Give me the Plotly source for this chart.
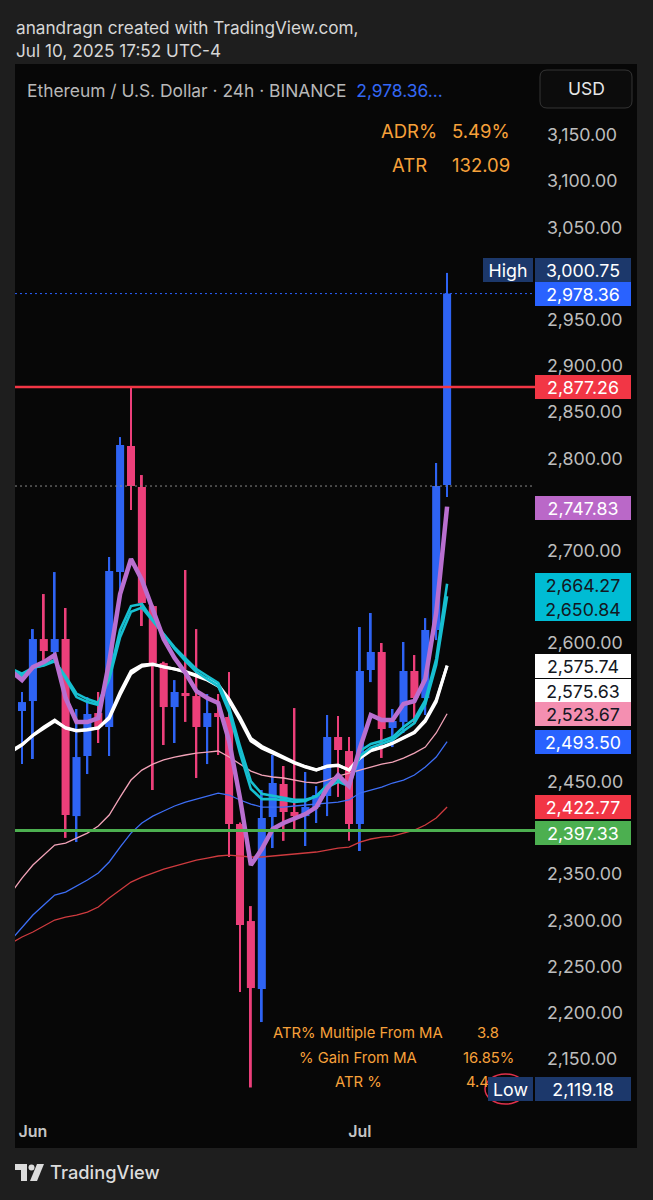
import plotly.graph_objects as go

# ---------------- data ----------------
candle_dates = (["2025-05-31"] + [f"2025-06-{d:02d}" for d in range(1, 31)]
                + [f"2025-07-{d:02d}" for d in range(1, 10)])
ma_dates = ["2025-05-30"] + candle_dates

open_ = [2526.6, 2537.4, 2604.5, 2590.5, 2604.5, 2412.9, 2477.9, 2524.4, 2509.3, 2677.0,
         2813.4, 2769.0, 2640.2, 2578.5, 2530.9, 2546.1, 2542.8, 2509.3, 2524.4, 2520.1,
         2404.3, 2299.3, 2225.7, 2411.9, 2447.6, 2417.3, 2412.9, 2422.7, 2434.6, 2498.5,
         2483.3, 2404.3, 2571.0, 2590.5, 2508.2, 2514.8, 2569.9, 2540.7, 2614.3, 2771.2]
high = [2547.2, 2615.3, 2653.2, 2677.0, 2638.1, 2528.8, 2541.7, 2547.2, 2693.3, 2823.1,
        2877.0, 2782.0, 2641.5, 2580.0, 2560.1, 2679.2, 2615.3, 2545.0, 2545.0, 2568.8,
        2406.0, 2315.5, 2441.1, 2479.0, 2467.1, 2529.8, 2460.6, 2445.4, 2522.3, 2521.2,
        2498.5, 2617.5, 2632.7, 2600.2, 2528.8, 2601.3, 2587.2, 2627.2, 2795.0, 3000.75]
low = [2469.2, 2474.7, 2581.8, 2581.8, 2389.3, 2384.8, 2458.4, 2492.0, 2477.9, 2655.4,
       2744.1, 2618.6, 2441.1, 2489.8, 2492.0, 2514.8, 2454.1, 2469.2, 2479.0, 2368.6,
       2222.5, 2119.18, 2190.0, 2378.3, 2386.1, 2396.1, 2380.5, 2405.4, 2412.9, 2433.6,
       2386.1, 2375.1, 2557.9, 2475.8, 2487.6, 2502.8, 2512.6, 2522.3, 2603.4, 2758.2]
close = [2536.3, 2604.5, 2591.5, 2604.5, 2414.0, 2476.8, 2523.4, 2509.3, 2678.1, 2814.5,
         2770.1, 2643.5, 2578.5, 2530.9, 2547.2, 2542.8, 2509.3, 2524.4, 2520.1, 2404.3,
         2295.0, 2226.8, 2410.8, 2448.7, 2417.3, 2412.9, 2422.7, 2435.7, 2498.5, 2484.4,
         2404.3, 2569.9, 2590.5, 2507.1, 2515.8, 2569.9, 2540.7, 2614.3, 2770.1, 2978.36]

ma_purple = [2569.9, 2560.1, 2574.2, 2579.6, 2587.2, 2540.7, 2514.7, 2514.7, 2519.0, 2579.6,
             2653.2, 2691.1, 2668.4, 2638.1, 2604.5, 2583.9, 2567.7, 2548.2, 2540.7, 2535.2,
             2494.1, 2432.4, 2359.9, 2377.2, 2398.9, 2405.4, 2409.7, 2415.1, 2422.7, 2443.2,
             2457.3, 2445.4, 2486.5, 2522.3, 2516.8, 2516.8, 2534.2, 2537.4, 2561.2, 2632.7,
             2747.83]
ma_cyan_a = [2571.0, 2564.5, 2573.1, 2576.4, 2581.8, 2561.2, 2541.7, 2536.3, 2533.1, 2564.5,
             2614.3, 2640.2, 2642.4, 2625.1, 2608.8, 2593.7, 2580.7, 2568.8, 2561.2, 2553.6,
             2525.5, 2481.1, 2442.2, 2431.3, 2431.3, 2430.3, 2428.1, 2429.2, 2434.6, 2446.5,
             2453.0, 2446.5, 2483.3, 2490.9, 2494.1, 2498.4, 2509.3, 2517.9, 2538.5, 2582.9,
             2664.27]
ma_cyan_b = [2572.5, 2567.0, 2573.5, 2576.0, 2580.5, 2564.0, 2545.5, 2539.5, 2535.5, 2561.0,
             2606.5, 2634.0, 2638.5, 2624.0, 2609.5, 2595.5, 2583.5, 2572.0, 2564.5, 2557.0,
             2530.5, 2488.5, 2450.5, 2437.0, 2435.0, 2433.0, 2430.5, 2430.5, 2434.0, 2444.0,
             2450.0, 2445.5, 2478.0, 2487.0, 2491.5, 2495.5, 2505.0, 2513.5, 2534.0, 2576.5,
             2650.84]
ma_white_a = [2482.2, 2489.8, 2500.6, 2509.3, 2516.8, 2508.2, 2504.9, 2506.0, 2508.2, 2520.1,
              2547.1, 2569.9, 2576.4, 2577.5, 2574.2, 2572.0, 2568.8, 2564.5, 2560.1, 2553.6,
              2537.4, 2516.8, 2494.1, 2486.5, 2481.1, 2475.7, 2470.3, 2466.0, 2462.7, 2467.1,
              2468.1, 2462.7, 2476.8, 2484.4, 2487.6, 2492.0, 2498.4, 2503.9, 2516.8, 2538.5,
              2575.74]
ma_white_b = [2483.5, 2490.5, 2500.0, 2508.0, 2515.5, 2508.5, 2505.5, 2506.5, 2508.5, 2518.5,
              2544.0, 2567.0, 2575.0, 2577.0, 2574.5, 2572.5, 2569.5, 2565.5, 2561.0, 2555.0,
              2539.5, 2519.5, 2497.0, 2488.5, 2482.5, 2476.5, 2471.0, 2466.5, 2463.0, 2466.5,
              2467.5, 2463.0, 2475.5, 2483.5, 2487.0, 2491.5, 2497.5, 2503.0, 2515.5, 2536.5,
              2575.63]
ma_pink = [2329.6, 2345.8, 2359.9, 2370.7, 2381.6, 2383.7, 2389.1, 2394.5, 2402.1, 2414.0,
           2433.5, 2451.9, 2462.7, 2469.2, 2473.6, 2476.8, 2479.0, 2481.1, 2482.2, 2483.3,
           2476.8, 2469.2, 2461.6, 2457.3, 2455.2, 2454.1, 2451.9, 2449.7, 2448.7, 2451.9,
           2456.2, 2459.5, 2462.7, 2466.0, 2469.2, 2471.4, 2475.7, 2481.1, 2487.6, 2502.8,
           2523.67]
ma_blue = [2278.7, 2291.7, 2305.8, 2316.6, 2327.4, 2330.7, 2337.2, 2343.7, 2351.3, 2363.2,
           2379.4, 2394.5, 2405.4, 2412.9, 2418.4, 2423.8, 2428.1, 2431.3, 2434.6, 2437.8,
           2435.7, 2430.3, 2425.9, 2422.7, 2422.7, 2422.7, 2423.8, 2424.8, 2425.9, 2427.0,
           2428.1, 2430.3, 2437.8, 2441.1, 2444.3, 2448.7, 2451.9, 2457.3, 2466.0, 2476.8,
           2493.50]
ma_red = [2275.5, 2282.0, 2287.4, 2293.9, 2300.4, 2303.6, 2305.8, 2309.0, 2314.5, 2324.2,
          2332.9, 2341.5, 2346.9, 2351.3, 2355.6, 2358.8, 2362.1, 2365.3, 2367.5, 2369.7,
          2370.7, 2369.7, 2368.6, 2368.6, 2369.7, 2370.7, 2371.8, 2372.9, 2374.0, 2376.1,
          2378.3, 2379.4, 2384.8, 2388.1, 2390.2, 2391.3, 2394.5, 2397.8, 2403.2, 2410.8,
          2422.77]

resistance = 2877.26
support = 2397.33
last_price = 2978.36
session_high = 3000.75
session_low = 2119.18
month_ticks = {"2025-06-01": "Jun", "2025-07-01": "Jul"}
# axis labels that are not hidden behind the price boxes
price_ticks = [2150, 2200, 2250, 2300, 2350, 2450, 2600, 2700, 2800, 2850, 2900, 2950,
               3050, 3100, 3150]

adr_rows = [("ADR%", "5.49%"), ("ATR", "132.09")]
# the last value is cut off by the "Low" price label in the picture
stat_rows = [("ATR% Multiple From MA", "3.8"), ("% Gain From MA", "16.85%"), ("ATR %", "4.4")]

# ---------------- layout helpers ----------------
W, H = 653, 1200
PL, PR, PT, PB = 15, 535, 64, 1112
FONT = "Inter, Roboto, sans-serif"


def px(x):
    return (x - PL) / (PR - PL)


def py(y):
    return (PB - y) / (PB - PT)


UP = "#2e63f3"
DOWN = "#ec3f7a"
NAVY = "#1c386b"
ORANGE = "#f7a13a"

x_c = list(range(len(candle_dates)))
x_ma = list(range(-1, len(ma_dates) - 1))

fig = go.Figure()

colors = [UP if c >= o else DOWN for o, c in zip(open_, close)]
fig.add_trace(go.Bar(x=x_c, base=low, y=[h - l for h, l in zip(high, low)], width=0.17,
                     marker=dict(color=colors, line=dict(width=0)), hoverinfo="skip"))
fig.add_trace(go.Bar(x=x_c, base=[min(o, c) for o, c in zip(open_, close)],
                     y=[max(abs(c - o), 1.2) for o, c in zip(open_, close)], width=0.74,
                     marker=dict(color=colors, line=dict(width=0)), hoverinfo="skip"))


def ma_line(vals, color, w):
    fig.add_trace(go.Scatter(x=x_ma, y=vals, mode="lines", line=dict(color=color, width=w),
                             hoverinfo="skip"))


ma_line(ma_red, "#cf3b3f", 1.3)
ma_line(ma_blue, "#3d6ef5", 1.3)
ma_line(ma_pink, "#f2a3b8", 1.3)
ma_line(ma_white_b, "#ffffff", 3)
ma_line(ma_white_a, "#ffffff", 3)
ma_line(ma_cyan_b, "#17bfd0", 2.6)
ma_line(ma_cyan_a, "#17bfd0", 2.6)
ma_line(ma_purple, "#b96fd0", 4.5)

shapes = []
# chart panel
shapes.append(dict(type="rect", xref="paper", yref="paper", x0=px(15), x1=px(637),
                   y0=py(1148), y1=py(64), fillcolor="#070707", line=dict(width=0), layer="below"))


def rounded_rect(x0, y0, x1, y1, r):
    return (f"M{px(x0 + r)},{py(y0)} L{px(x1 - r)},{py(y0)} Q{px(x1)},{py(y0)} {px(x1)},{py(y0 + r)} "
            f"L{px(x1)},{py(y1 - r)} Q{px(x1)},{py(y1)} {px(x1 - r)},{py(y1)} "
            f"L{px(x0 + r)},{py(y1)} Q{px(x0)},{py(y1)} {px(x0)},{py(y1 - r)} "
            f"L{px(x0)},{py(y0 + r)} Q{px(x0)},{py(y0)} {px(x0 + r)},{py(y0)} Z")


shapes.append(dict(type="path", xref="paper", yref="paper", path=rounded_rect(540, 70, 632, 108, 7),
                   fillcolor="#0c0c0c", line=dict(color="#343434", width=1)))
# price lines
shapes.append(dict(type="line", xref="paper", yref="y", x0=0, x1=1, y0=last_price, y1=last_price,
                   line=dict(color="#2962ff", width=1, dash="2px,3px")))
shapes.append(dict(type="line", xref="paper", yref="y", x0=0, x1=1, y0=close[-2], y1=close[-2],
                   line=dict(color="#8a8a8a", width=1, dash="2px,3px")))
shapes.append(dict(type="line", xref="paper", yref="y", x0=0, x1=1, y0=resistance, y1=resistance,
                   line=dict(color="#f23645", width=2.5)))
shapes.append(dict(type="line", xref="paper", yref="y", x0=0, x1=1, y0=support, y1=support,
                   line=dict(color="#4caf50", width=3)))
# scribble around Low
shapes.append(dict(type="circle", xref="paper", yref="paper", x0=px(485), x1=px(526),
                   y0=py(1104), y1=py(1074), line=dict(color="#e0314b", width=1.5)))
# TradingView logo
logo_a = (f"M{px(15)},{py(1164)} L{px(27)},{py(1164)} L{px(27)},{py(1181)} L{px(21)},{py(1181)} "
          f"L{px(21)},{py(1170)} L{px(15)},{py(1170)} Z")
logo_c = (f"M{px(37)},{py(1164)} L{px(44)},{py(1164)} L{px(37)},{py(1181)} L{px(30)},{py(1181)} Z")
shapes.append(dict(type="path", xref="paper", yref="paper", path=logo_a, fillcolor="#dcdcdc",
                   line=dict(width=0)))
shapes.append(dict(type="path", xref="paper", yref="paper", path=logo_c, fillcolor="#dcdcdc",
                   line=dict(width=0)))
shapes.append(dict(type="circle", xref="paper", yref="paper", x0=px(28.5), x1=px(34.5),
                   y0=py(1170.5), y1=py(1164.5), fillcolor="#dcdcdc", line=dict(width=0)))

ann = []


def text(x, y, s, size, color, anchor="left", weight=400):
    ann.append(dict(x=px(x), y=py(y), xref="paper", yref="paper", text=s, showarrow=False,
                    xanchor=anchor, yanchor="middle",
                    font=dict(family=FONT, size=size, color=color, weight=weight)))


text(14, 27, "anandragn created with TradingView.com,", 17.2, "#d6d6d6")
text(14, 51, "Jul 10, 2025 17:52 UTC-4", 17.2, "#d6d6d6")
text(25, 90, "Ethereum / U.S. Dollar · 24h · BINANCE  "
     f"<span style='color:#3468f5'>{last_price:,.2f}...</span>", 17.4, "#b8b8b8")
text(586, 89, "USD", 17.5, "#e6e6e6", anchor="center")
for i, (k, v) in enumerate(adr_rows):
    text(409, 131 + 34 * i, k, 18.5, ORANGE, anchor="center")
    text(481, 131 + 34 * i, v, 18.5, ORANGE, anchor="center")
for i, (k, v) in enumerate(stat_rows):
    text(358, 1033 + 24.5 * i, k, 14.8, ORANGE, anchor="center")
    if i < 2:
        text(488, 1033 + 24.5 * i, v, 14.8, ORANGE, anchor="center")
    else:
        text(464, 1033 + 24.5 * i, v, 14.8, ORANGE, anchor="left")
text(48, 1172, "TradingView", 18.3, "#dcdcdc", weight=500)


def price_box(value, s, bg, fg, yshift=0, x0=535, w=96):
    ann.append(dict(x=px(x0), y=value, xref="paper", yref="y", text=s, showarrow=False,
                    xanchor="left", yanchor="middle", yshift=yshift, width=w, height=24,
                    align="center", bgcolor=bg, borderpad=0, borderwidth=0,
                    font=dict(family=FONT, size=17.8, color=fg)))


fmt = "{:,.2f}".format
price_box(session_high, "High", NAVY, "#ffffff", yshift=3, x0=483, w=50)
price_box(session_high, fmt(session_high), NAVY, "#ffffff", yshift=3)
price_box(last_price, fmt(last_price), "#2962ff", "#ffffff")
price_box(resistance, fmt(resistance), "#f23645", "#ffffff")
price_box(ma_purple[-1], fmt(ma_purple[-1]), "#ba68c8", "#ffffff", yshift=-1.5)
price_box(ma_cyan_a[-1], fmt(ma_cyan_a[-1]), "#00bcd4", "#131722", yshift=-1)
price_box(ma_cyan_b[-1], fmt(ma_cyan_b[-1]), "#00bcd4", "#131722", yshift=-12.5)
price_box(ma_white_a[-1], fmt(ma_white_a[-1]), "#ffffff", "#131722")
price_box(ma_white_b[-1], fmt(ma_white_b[-1]), "#ffffff", "#131722", yshift=-25)
price_box(ma_pink[-1], fmt(ma_pink[-1]), "#f48fb1", "#131722")
price_box(ma_blue[-1], fmt(ma_blue[-1]), "#2962ff", "#ffffff")
price_box(ma_red[-1], fmt(ma_red[-1]), "#f23645", "#ffffff")
price_box(support, fmt(support), "#4caf50", "#ffffff", yshift=-2.5)
price_box(session_low, "Low", NAVY, "#ffffff", yshift=-2, x0=488, w=45)
price_box(session_low, fmt(session_low), NAVY, "#ffffff", yshift=-2)

y_top = 3150 + (135 - PT) / 0.924
y_bot = 3150 - (PB - 135) / 0.924
x_left = (PL - 22) / 10.9
x_right = (PR - 22) / 10.9

fig.update_layout(
    width=W, height=H, margin=dict(l=PL, r=W - PR, t=PT, b=H - PB),
    paper_bgcolor="#1e1e1e", plot_bgcolor="#070707",
    showlegend=False, barmode="overlay", shapes=shapes, annotations=ann,
    font=dict(family=FONT),
    xaxis=dict(range=[x_left, x_right], showgrid=False, zeroline=False, showline=False,
               ticks="", tickvals=[candle_dates.index(d) for d in month_ticks],
               ticktext=list(month_ticks.values()), ticklabelstandoff=8,
               tickfont=dict(family=FONT, size=16, color="#c4c4c4", weight=600)),
    yaxis=dict(range=[y_bot, y_top], side="right", showgrid=False, zeroline=False,
               showline=False, ticks="", tickvals=price_ticks,
               ticktext=[fmt(v) for v in price_ticks], ticklabelstandoff=11,
               tickfont=dict(family=FONT, size=17.8, color="#bdbdbd")),
)

fig.write_html("out.html", config={"displayModeBar": False},
               post_script="document.body.style.margin='0';"
                           "document.body.style.background='#1e1e1e';")
